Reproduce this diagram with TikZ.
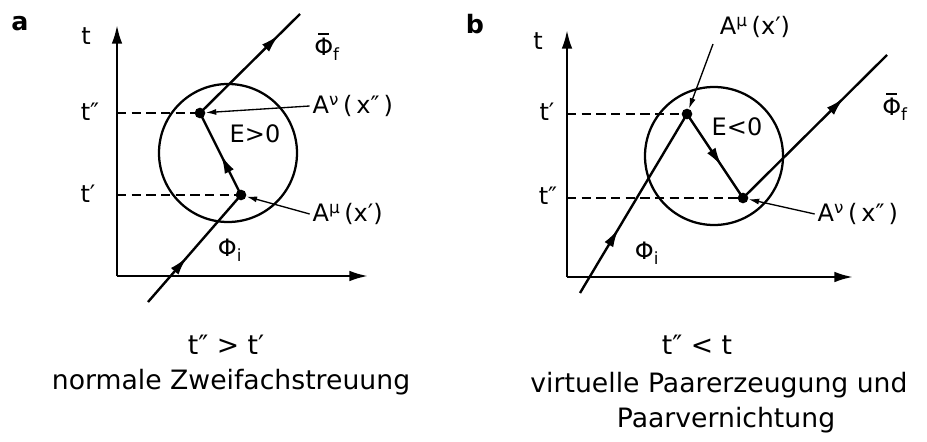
\documentclass[tikz,border=0pt]{standalone}
\usepackage{fontspec}
\setmainfont{DejaVu Sans}
\usetikzlibrary{arrows.meta,decorations.markings}
\tikzset{
  wline/.style={line width=1.8pt},
  axis/.style={line width=1.8pt,-{Latex[length=14pt,width=8pt]}},
  dashline/.style={line width=1.4pt,dash pattern=on 7pt off 4pt},
  ring/.style={line width=1.7pt},
  midarrow/.style={postaction={decorate},decoration={markings,mark=at position #1 with {\arrow{Latex[length=14pt,width=7.5pt]}}}},
  ptr/.style={line width=1pt,-{Latex[length=8pt,width=4.5pt]}},
  lab/.style={font=\fontsize{18}{22}\selectfont,inner sep=1pt},
  capt/.style={font=\fontsize{20}{24}\selectfont,inner sep=0pt},
  panel/.style={font=\fontsize{19}{22}\selectfont\bfseries,inner sep=0pt},
  vdot/.style={circle,fill,inner sep=0pt,minimum size=8pt}
}
\newcommand{\PhiBar}{\leavevmode\rlap{\hspace{0.17em}\rule[0.86em]{0.45em}{0.09em}}Φ}
\begin{document}
\begin{tikzpicture}[x=0.75pt,y=-0.75pt]
\useasboundingbox (0,0) rectangle (927,442);

% ---------- panel a ----------
\node[panel] (pa) at (20,24) {a};
\coordinate (oa) at (117,276);
\coordinate (ta) at (117,25);
\coordinate (xa) at (368,276);
\draw[axis] (oa) -- (ta);
\draw[axis] (oa) -- (xa);
\node[lab] (la-t) at (86,36) {t};
\node[lab] (la-t2) at (90,112) {t″};
\node[lab] (la-t1) at (88,194) {t′};
\coordinate (da2) at (117,113);
\coordinate (da1) at (117,195);
\node[vdot] (va2) at (200,113) {};
\node[vdot] (va1) at (241,195) {};
\node[circle,ring,draw,minimum size=103.5pt,inner sep=0pt] (ca) at (228,153) {};
\draw[dashline] (da2) -- (va2.center);
\draw[dashline] (da1) -- (va1.center);
\coordinate (ina) at (148,302);
\coordinate (outa) at (300,14);
\draw[wline,midarrow=0.42] (ina) -- (va1.center);
\draw[wline,midarrow=0.49] (va1.center) -- (va2.center);
\draw[wline,midarrow=0.79] (va2.center) -- (outa);
\node[lab] (la-E) at (255,134) {E>0};
\node[lab] (la-phii) at (230,250) {Φ\textsubscript{i}};
\node[lab] (la-phif) at (327,47) {\PhiBar\textsubscript{f}};
\node[lab,anchor=west] (la-Anu) at (311,106) {A\textsuperscript{ν}\,(\,x″\,)};
\node[lab,anchor=west] (la-Amu) at (311,214) {A\textsuperscript{μ}\,(x′)};
\draw[ptr] ([xshift=-1pt]la-Anu.west) -- (va2);
\draw[ptr] ([xshift=-1pt]la-Amu.west) -- (va1);
\node[capt] (ca1) at (226,345) {t″ > t′};
\node[capt] (ca2) at (231,382) {normale Zweifachstreuung};

% ---------- panel b ----------
\node[panel] (pb) at (475,24) {b};
\coordinate (ob) at (567,277);
\coordinate (tb) at (567,30);
\coordinate (xb) at (853,277);
\draw[axis] (ob) -- (tb);
\draw[axis] (ob) -- (xb);
\node[lab] (lb-t) at (538,41) {t};
\node[lab] (lb-t1) at (547,112) {t′};
\node[lab] (lb-t2) at (548,196) {t″};
\coordinate (db1) at (567,114);
\coordinate (db2) at (567,198);
\node[vdot] (vb1) at (687,114) {};
\node[vdot] (vb2) at (743,198) {};
\node[circle,ring,draw,minimum size=103.5pt,inner sep=0pt] (cb) at (714,156) {};
\draw[dashline] (db1) -- (vb1.center);
\draw[dashline] (db2) -- (vb2.center);
\coordinate (inb) at (580,293);
\coordinate (outb) at (887,55);
\draw[wline,midarrow=0.36] (inb) -- (vb1.center);
\draw[wline,midarrow=0.62] (vb1.center) -- (vb2.center);
\draw[wline,midarrow=0.70] (vb2.center) -- (outb);
\node[lab] (lb-E) at (737,127) {E<0};
\node[lab] (lb-phii) at (647,253) {Φ\textsubscript{i}};
\node[lab] (lb-phif) at (895,107) {\PhiBar\textsubscript{f}};
\node[lab] (lb-Amu) at (755,27) {A\textsuperscript{μ}\,(x′)};
\node[lab,anchor=west] (lb-Anu) at (816,214) {A\textsuperscript{ν}\,(\,x″\,)};
\coordinate (pbm) at (713,44);
\draw[ptr] (pbm) -- (vb1);
\draw[ptr] ([xshift=-1pt]lb-Anu.west) -- (vb2);
\node[capt] (cb1) at (697,345) {t″ < t};
\node[capt] (cb2) at (719,385) {virtuelle Paarerzeugung und};
\node[capt] (cb3) at (726,420) {Paarvernichtung};
\end{tikzpicture}
\end{document}
